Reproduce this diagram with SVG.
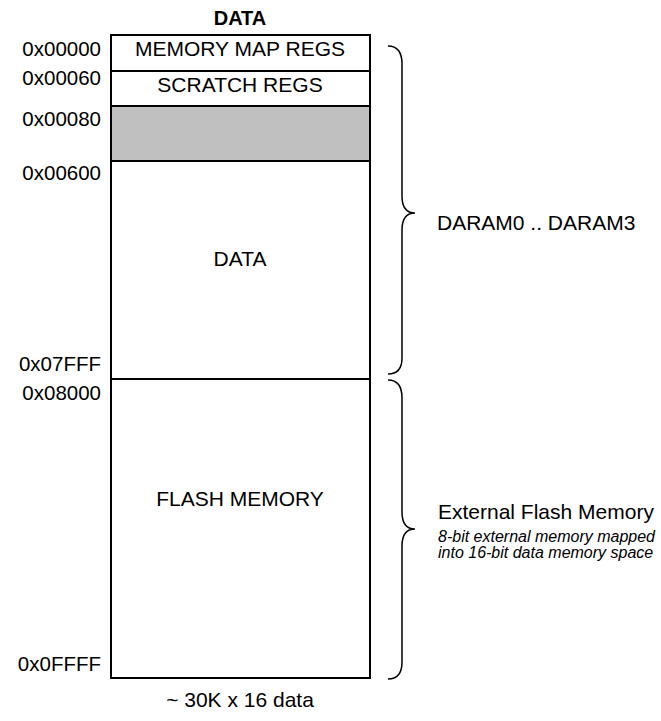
<svg xmlns="http://www.w3.org/2000/svg" width="661" height="721" viewBox="0 0 661 721">
<style>
text{font-family:"Liberation Sans",Arial,sans-serif;font-size:21px;fill:#000}
.addr{text-anchor:end;font-size:20.5px}
.mid{text-anchor:middle}
.bold{font-weight:bold;font-size:20px}
.it{font-style:italic;font-size:16px}
.box{fill:#fff;stroke:#000;stroke-width:2}
.brace{fill:none;stroke:#000;stroke-width:1.5}
</style>
<rect width="661" height="721" fill="#fff"/>
<text class="mid bold" x="240" y="25">DATA</text>
<g id="memmap">
<rect class="box" x="111" y="35" width="259" height="36"/>
<text class="mid" x="240" y="56">MEMORY MAP REGS</text>
</g>
<g id="scratch">
<rect class="box" x="111" y="71" width="259" height="35"/>
<text class="mid" x="240" y="92">SCRATCH REGS</text>
</g>
<g id="reserved">
<rect class="box" x="111" y="106" width="259" height="55" style="fill:#c0c0c0"/>
</g>
<g id="data">
<rect class="box" x="111" y="161" width="259" height="218"/>
<text class="mid" x="240" y="266">DATA</text>
</g>
<g id="flash">
<rect class="box" x="111" y="379" width="259" height="299"/>
<text class="mid" x="240" y="506">FLASH MEMORY</text>
</g>
<g id="addresses">
<text class="addr" x="101" y="56">0x00000</text>
<text class="addr" x="101" y="85">0x00060</text>
<text class="addr" x="101" y="126">0x00080</text>
<text class="addr" x="101" y="180">0x00600</text>
<text class="addr" x="101" y="371">0x07FFF</text>
<text class="addr" x="101" y="400">0x08000</text>
<text class="addr" x="101" y="671">0x0FFFF</text>
</g>
<g id="connectors">
<path class="brace" d="M388,46 C398,46 402,52 402,64 L402,196 C402,207 406,213 415,213 C406,213 402,219 402,230 L402,358 C402,368 398,374 388,374"/>
<path class="brace" d="M388,380 C398,380 402,386 402,398 L402,512 C402,523 406,529 415,529 C406,529 402,535 402,546 L402,662 C402,672 398,679 388,679"/>
</g>
<g id="daram-label">
<text x="437" y="230">DARAM0 .. DARAM3</text>
</g>
<g id="flash-label">
<text x="438" y="519">External Flash Memory</text>
<text class="it" x="438" y="542">8-bit external memory mapped</text>
<text class="it" x="438" y="558">into 16-bit data memory space</text>
</g>
<text class="mid" x="240" y="707">~ 30K x 16 data</text>
</svg>
